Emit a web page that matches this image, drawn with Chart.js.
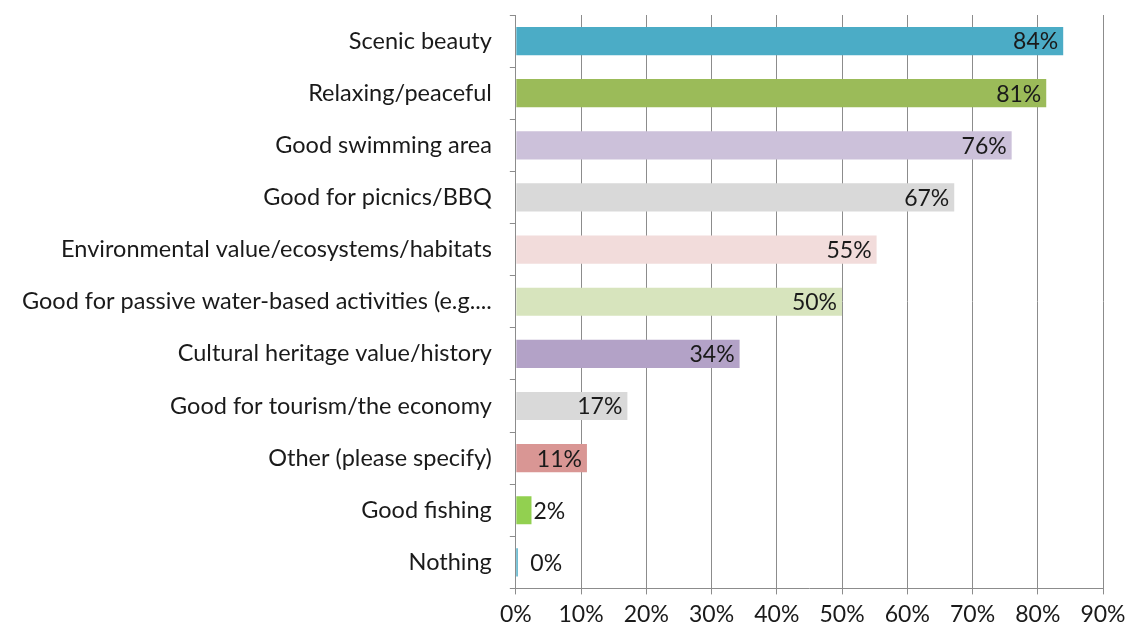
<!DOCTYPE html>
<html>
<head>
<meta charset="utf-8">
<script src="https://cdn.jsdelivr.net/npm/chart.js@4/dist/chart.umd.min.js"></script>
<style>
  html, body { margin: 0; padding: 0; background: #fff; }
  #wrap { width: 1127px; height: 634px; }
</style>
</head>
<body>
<div id="wrap"><canvas id="myChart"></canvas></div>
<script>
const categorias = [
    'Scenic beauty',
    'Relaxing/peaceful',
    'Good swimming area',
    'Good for picnics/BBQ',
    'Environmental value/ecosystems/habitats',
    'Good for passive water-based activities (e.g....',
    'Cultural heritage value/history',
    'Good for tourism/the economy',
    'Other (please specify)',
    'Good fishing',
    'Nothing'
];
const porcentajes = [83.9, 81.3, 76, 67.2, 55.3, 50, 34.3, 17.1, 10.9, 2.4, 0.3];
const etiquetas = ['84%', '81%', '76%', '67%', '55%', '50%', '34%', '17%', '11%', '2%', '0%'];
const colores = ['#4BACC6', '#9BBB59', '#CCC1DA', '#D9D9D9', '#F2DCDB', '#D7E4BD',
    '#B3A2C7', '#D9D9D9', '#D99694', '#92D050', '#4BACC6'];

const FUENTE = 'Lato, "Open Sans", sans-serif';

// etiquetas de valor: dentro de la barra, o fuera si la barra es muy corta
const etiquetasPlugin = {
    id: 'etiquetas',
    afterDatasetsDraw(chart) {
        const ctx = chart.ctx;
        const meta = chart.getDatasetMeta(0);
        ctx.save();
        ctx.font = '23px ' + FUENTE;
        ctx.fillStyle = '#1a1a1a';
        ctx.textBaseline = 'middle';
        meta.data.forEach((bar, i) => {
            const txt = etiquetas[i];
            const w = ctx.measureText(txt).width;
            if (bar.x - bar.base > w + 12) {
                ctx.textAlign = 'right';
                ctx.fillText(txt, bar.x - 5, bar.y + 1);
            } else {
                ctx.textAlign = 'left';
                ctx.fillText(txt, Math.max(bar.x + 2, bar.base + 14), bar.y + 1);
            }
        });
        ctx.restore();
    }
};

new Chart(document.getElementById('myChart'), {
    type: 'bar',
    data: {
        labels: categorias,
        datasets: [{
            data: porcentajes,
            backgroundColor: colores,
            borderWidth: 0,
            barPercentage: 0.54,
            categoryPercentage: 1
        }]
    },
    options: {
        indexAxis: 'y',
        responsive: true,
        maintainAspectRatio: false,
        animation: false,
        layout: { padding: { top: 15, right: 24, left: 4, bottom: 0 } },
        plugins: {
            legend: { display: false },
            tooltip: { enabled: false }
        },
        scales: {
            x: {
                min: 0,
                max: 90,
                afterFit(scale) {
                    scale.paddingRight = 0;
                },
                ticks: {
                    stepSize: 10,
                    callback: v => v + '%',
                    color: '#1a1a1a',
                    font: { family: FUENTE, size: 23 },
                    padding: 6,
                    maxRotation: 0
                },
                grid: { color: '#8c8c8c', lineWidth: 1, tickLength: 6 },
                border: { color: '#8c8c8c' }
            },
            y: {
                afterFit(scale) {
                    scale.paddingTop = 0;
                    scale.paddingBottom = 0;
                },
                ticks: {
                    color: '#1a1a1a',
                    font: { family: FUENTE, size: 23.5 },
                    padding: 18
                },
                grid: { color: '#8c8c8c', drawOnChartArea: false, tickLength: 6 },
                border: { color: '#8c8c8c' }
            }
        }
    },
    plugins: [etiquetasPlugin]
});
</script>
</body>
</html>
